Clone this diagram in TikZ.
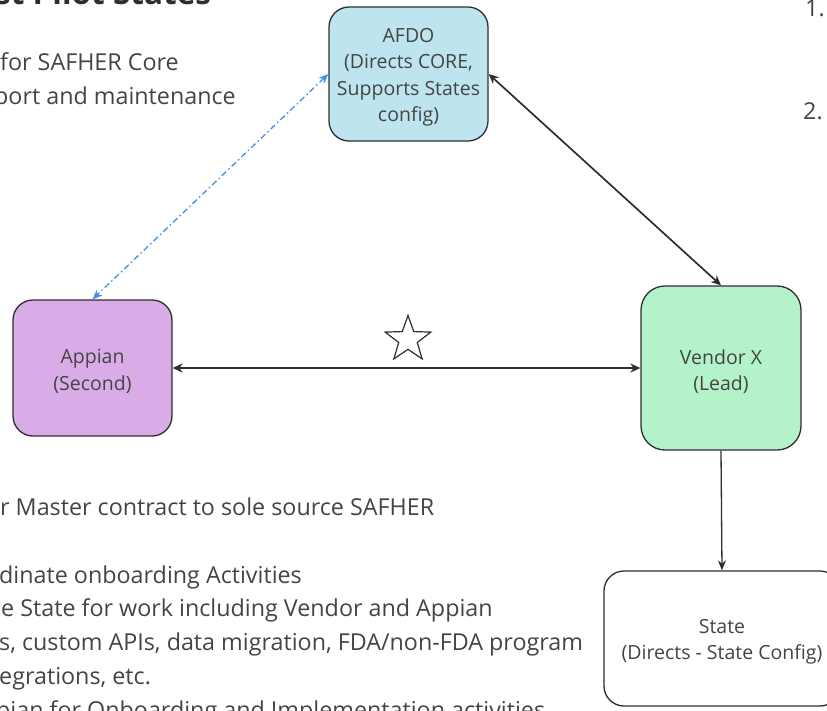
\documentclass[tikz,border=0pt]{standalone}
\usepackage{fontspec}
\setmainfont{Open Sans}
\usetikzlibrary{arrows.meta,shapes.geometric}
\definecolor{afdofill}{HTML}{BEE5EF}
\definecolor{appfill}{HTML}{D9ACE8}
\definecolor{venfill}{HTML}{B4F2C9}
\definecolor{edgecol}{HTML}{2E2E2E}
\definecolor{txtcol}{HTML}{444444}
\definecolor{bluecol}{HTML}{3A93E8}
\tikzset{
  box/.style={draw=edgecol, line width=1.3pt, rounded corners=20pt, inner sep=0pt},
  boxtext/.style={align=center, text=txtcol, font=\fontsize{19.5}{26.5}\selectfont, inner sep=0pt, yshift=-3.5pt},
  conn/.style={line width=1.7pt, draw=edgecol, {Stealth[length=10pt,width=9pt]}-{Stealth[length=10pt,width=9pt]}},
  oneway/.style={line width=1.3pt, draw=edgecol, -{Stealth[length=10pt,width=8pt]}},
  bluelink/.style={line width=1.3pt, draw=bluecol, dash pattern=on 6pt off 3pt on 1.5pt off 3pt,
    {Stealth[length=10pt,width=8pt]}-{Stealth[length=10pt,width=8pt]}},
  side/.style={anchor=base west, inner sep=0pt, text=txtcol, font=\fontsize{23.3}{34}\selectfont},
}
\begin{document}
\begin{tikzpicture}[x=1pt,y=-1pt]
\useasboundingbox (0,0) rectangle (827,710);
\clip (0,0) rectangle (827,710);
% nodes
\node[box, fill=afdofill, minimum width=159pt, minimum height=134pt,
  label={[boxtext]center:{AFDO\\(Directs CORE,\\Supports States\\config)}}] (afdo) at (408.5,74) {};
\node[box, fill=appfill, minimum width=159pt, minimum height=136pt,
  label={[boxtext]center:{Appian\\(Second)}}] (appian) at (92.5,368) {};
\node[box, fill=venfill, minimum width=160pt, minimum height=164pt, rounded corners=24pt,
  label={[boxtext]center:{Vendor X\\(Lead)}}] (vendor) at (721,368) {};
\node[box, fill=white, minimum width=236pt, minimum height=135pt,
  label={[boxtext]center:{State\\(Directs - State Config)}}] (state) at (722,638.5) {};
\node[star, star points=5, star point ratio=2.45, draw=edgecol, line width=1.2pt, minimum size=48pt, inner sep=0pt] (star) at (408,339.5) {};
% connectors
\draw[conn] (appian.east) -- (vendor.west);
\draw[conn] (afdo.east) -- (vendor.north);
\draw[bluelink] (afdo.west) -- (appian.north);
\draw[oneway] (vendor.south) -- (state.north);
% side texts
\node[anchor=base west, inner sep=0pt, text=edgecol, font=\fontsize{31.5}{36}\bfseries\selectfont] (title) at (-5,4) {st Pilot States};
\node[side] (l1) at (0,70) {for SAFHER Core};
\node[side] (l2) at (-6,104) {port and maintenance};
\node[side] (n1) at (805,16) {1.};
\node[side] (n2) at (803,119) {2.};
\node[side] (b1) at (0,515) {r Master contract to sole source SAFHER};
\node[side] (b2) at (-1,583) {dinate onboarding Activities};
\node[side] (b3) at (1,616) {e State for work including Vendor and Appian};
\node[side] (b4) at (-1,650) {s, custom APIs, data migration, FDA/non-FDA program};
\node[side] (b5) at (-1,684) {egrations, etc.};
\node[side] (b6) at (-4,718) {pian for Onboarding and Implementation activities};
\end{tikzpicture}
\end{document}
